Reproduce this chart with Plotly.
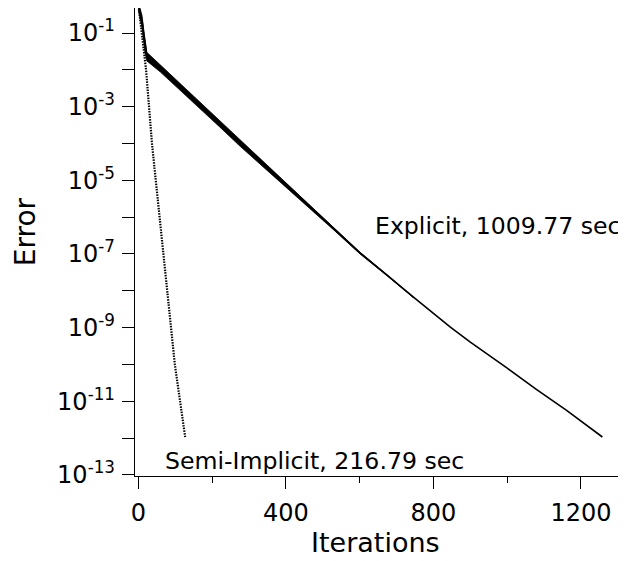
import plotly.graph_objects as go

# ---- data ----
explicit_iter = [0, 5, 10, 15, 18, 23, 60, 113, 167, 220, 276, 340, 411, 470, 528,
                 601, 680, 745, 845, 899, 1000, 1078, 1160, 1258]
explicit_err = [0.575, 0.355, 0.224, 0.089, 0.047, 0.0251, 0.0115, 3.7e-3, 1.15e-3,
                3.7e-4, 1.07e-4, 2.75e-5, 6.2e-6, 1.74e-6, 5.1e-7, 1.07e-7, 2.4e-8,
                6.8e-9, 1.05e-9, 4.1e-10, 7.9e-11, 2.14e-11, 5.75e-12, 1.07e-12]

# noisy band around the explicit curve (upper / lower envelope), early iterations
band_iter = [0, 5, 10, 15, 18, 23, 60, 113, 167, 220, 276, 340, 411, 470, 528, 601, 680, 745]
band_hi = [0.70, 0.46, 0.30, 0.115, 0.060, 0.0300, 0.0135, 4.3e-3, 1.33e-3, 4.25e-4,
           1.21e-4, 3.05e-5, 6.8e-6, 1.88e-6, 5.4e-7, 1.11e-7, 2.45e-8, 6.9e-9]
band_lo = [0.42, 0.24, 0.14, 0.055, 0.030, 0.0175, 0.0087, 2.85e-3, 8.8e-4, 2.85e-4,
           8.4e-5, 2.25e-5, 5.3e-6, 1.54e-6, 4.65e-7, 1.0e-7, 2.3e-8, 6.6e-9]

semi_iter = [0, 21, 37, 57, 78, 99, 127]
semi_err = [0.63, 1e-2, 1e-4, 1e-6, 1e-8, 1e-10, 1.07e-12]

y_tick_vals = [1e-1, 1e-2, 1e-3, 1e-4, 1e-5, 1e-6, 1e-7, 1e-8, 1e-9, 1e-10, 1e-11, 1e-12, 1e-13]
y_tick_text = ["10<sup>-1</sup>", "", "10<sup>-3</sup>", "", "10<sup>-5</sup>", "",
               "10<sup>-7</sup>", "", "10<sup>-9</sup>", "", "10<sup>-11</sup>", "",
               "10<sup>-13</sup>"]
x_tick_vals = [0, 400, 800, 1200]
x_tick_text = ["0", "400", "800", "1200"]
x_minor_vals = [200, 600, 1000]

explicit_label = "Explicit, 1009.77 sec"
semi_label = "Semi-Implicit, 216.79 sec"

FONT = "DejaVu Sans"

fig = go.Figure()

fig.add_trace(go.Scatter(
    x=band_iter + band_iter[::-1],
    y=band_hi + band_lo[::-1],
    fill="toself", fillcolor="black", mode="lines",
    line=dict(color="black", width=0.8), hoverinfo="skip", showlegend=False))

fig.add_trace(go.Scatter(
    x=explicit_iter, y=explicit_err, mode="lines",
    line=dict(color="black", width=1.6), showlegend=False, name="Explicit"))

fig.add_trace(go.Scatter(
    x=semi_iter, y=semi_err, mode="lines",
    line=dict(color="black", width=2.2, dash="1.5px,1.2px"), showlegend=False,
    name="Semi-Implicit"))

# the page body has an 8px margin, so the figure is sized/offset to compensate
fig.update_layout(
    width=618, height=553,
    margin=dict(l=127, r=0, t=0, b=85, autoexpand=False),
    paper_bgcolor="white", plot_bgcolor="white",
    font=dict(family=FONT, size=24, color="black"),
    showlegend=False,
    xaxis=dict(
        range=[-9, 1322], showgrid=False, zeroline=False,
        showline=True, linecolor="black", linewidth=1.3,
        ticks="outside", ticklen=12, tickwidth=1.3, tickcolor="black",
        tickvals=x_tick_vals, ticktext=x_tick_text,
        tickfont=dict(family=FONT, size=24, color="black"),
        ticklabelstandoff=3,
        minor=dict(tickvals=x_minor_vals, ticks="outside", ticklen=6,
                   tickwidth=1.3, tickcolor="black"),
    ),
    yaxis=dict(
        type="log", range=[-13.03, -0.32], showgrid=False, zeroline=False,
        showline=True, linecolor="black", linewidth=1.3,
        ticks="outside", ticklen=12, tickwidth=1.3, tickcolor="black",
        tickvals=y_tick_vals, ticktext=y_tick_text,
        tickfont=dict(family=FONT, size=24, color="black"),
        ticklabelstandoff=2,
    ),
    annotations=[
        dict(text=explicit_label, x=636, y=-6.24, xref="x", yref="y",
             xanchor="left", yanchor="middle", showarrow=False,
             font=dict(family=FONT, size=23.6, color="black")),
        dict(text=semi_label, x=67, y=-12.62, xref="x", yref="y",
             xanchor="left", yanchor="middle", showarrow=False,
             font=dict(family=FONT, size=23.6, color="black")),
        dict(text="Iterations", x=0.489, y=-0.143, xref="paper", yref="paper",
             xanchor="center", yanchor="middle", showarrow=False,
             font=dict(family=FONT, size=27, color="black")),
        dict(text="Error", x=-0.224, y=0.521, xref="paper", yref="paper",
             xanchor="center", yanchor="middle", showarrow=False, textangle=-90,
             font=dict(family=FONT, size=28, color="black")),
    ],
)

fig.write_html("out.html")
